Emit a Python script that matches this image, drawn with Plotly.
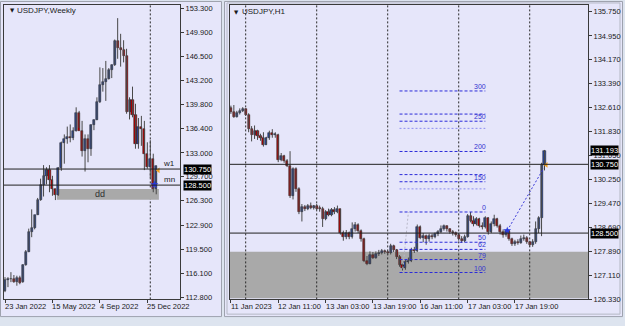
import plotly.graph_objects as go

W, H = 625, 326

# ---------------- Weekly data (bar index 0 = week of 23 Jan 2022) ----------------
w_open  = [113.7,115.2,115.3,115.4,115.0,115.5,114.9,117.3,119.2,122.0,122.5,124.3,126.4,128.5,129.8,130.6,
           129.2,127.9,127.1,130.9,134.4,135.0,135.2,135.1,136.1,138.6,136.1,133.3,135.0,133.5,136.9,137.6,
           140.2,142.6,142.9,143.4,144.7,145.3,148.7,147.7,147.5,146.6,138.8,140.4,138.3,134.3,136.6,136.4,
           132.8,131.1,132.1,127.9]
w_high  = [115.6,115.6,116.3,115.9,115.8,115.8,117.4,119.4,122.4,125.1,124.3,126.7,129.4,131.3,131.0,131.3,
           129.8,128.0,131.0,134.6,135.6,136.7,137.0,136.6,139.4,138.9,137.5,135.6,135.6,137.0,137.7,140.8,
           145.0,144.9,145.9,144.9,145.4,148.9,151.9,149.7,148.8,147.6,140.8,142.3,139.9,137.9,138.2,137.5,
           134.5,134.8,132.9,131.22]
w_low   = [113.5,114.2,114.9,114.8,114.4,114.6,114.8,117.2,119.1,121.2,122.3,124.3,126.3,126.9,128.6,127.5,
           127.0,126.4,127.0,130.5,131.5,134.3,134.5,134.8,136.0,136.5,132.5,130.4,131.7,132.6,136.2,137.6,
           140.0,141.6,140.3,143.3,143.5,145.2,146.2,145.1,145.7,138.5,137.7,138.0,133.6,133.6,134.0,130.6,
           130.8,129.5,127.5,127.21]
w_close = [115.2,115.3,115.4,115.0,115.5,114.8,117.3,119.2,122.0,122.5,124.3,126.4,128.5,129.8,130.6,129.2,
           127.9,127.1,130.9,134.4,135.0,135.2,135.1,136.1,138.6,136.1,133.3,135.0,133.5,136.9,137.6,140.2,
           142.6,142.9,143.4,144.7,145.3,148.7,147.7,147.5,146.6,138.8,140.4,138.3,134.3,136.6,136.4,132.8,
           131.1,132.1,127.9,131.19]
w_tick_idx = [0, 16, 32, 48]
w_tick_text = ["23 Jan 2022", "15 May 2022", "4 Sep 2022", "25 Dec 2022"]
w_yticks = [153.3,149.9,146.5,143.2,139.8,136.4,133.0,129.7,126.3,122.9,119.5,116.1,112.8]
w_separators = [49]
w_levels = [130.75, 128.50]
w_level_names = ["w1", "mn"]
dd_box = dict(x0=17.5, x1=51.9, y0=126.44, y1=127.95)
dd_text_x = 32
w_marks_blue = (50.4, 128.56)
w_marks_orange = (51.7, 130.57)

# ---------------- H1 data (bar index 0 = 11 Jan 2023 19:00) ----------------
h_open  = [132.61,132.46,132.30,132.44,132.51,132.55,132.38,131.92,131.72,131.85,131.68,131.62,131.40,131.60,131.78,131.70,
           131.72,130.90,131.02,130.85,130.70,129.70,130.60,129.95,129.19,129.35,129.28,129.40,129.33,129.38,129.30,129.28,
           128.95,129.18,129.10,129.25,129.20,129.28,128.50,128.36,128.50,128.38,128.62,128.78,128.58,128.30,127.60,127.50,
           127.80,127.70,127.82,127.86,127.92,127.88,127.84,128.08,127.95,127.72,127.45,127.35,127.55,127.60,127.95,127.90,
           128.70,128.35,128.40,128.30,128.42,128.38,128.46,128.55,128.65,128.72,128.62,128.55,128.50,128.45,128.32,128.25,
           128.38,129.05,128.90,128.80,128.95,128.75,128.70,128.98,128.55,128.80,128.95,128.75,128.55,128.45,128.58,128.30,
           128.15,128.22,128.18,128.30,128.35,128.20,128.10,128.22,128.62,129.00,130.72]
h_high  = [132.67,132.69,132.50,132.58,132.62,132.58,132.42,132.00,132.02,131.88,131.75,131.80,131.65,131.85,131.90,131.80,
           131.75,131.12,131.06,130.92,131.18,130.65,130.65,130.00,129.45,129.42,129.45,129.50,129.42,129.45,129.40,129.36,
           129.25,129.30,129.32,129.35,129.40,129.30,128.58,128.60,128.55,128.85,128.86,128.82,128.62,128.35,127.75,127.90,
           127.88,127.90,127.95,127.98,127.96,127.93,128.15,128.12,127.98,127.78,127.50,127.62,127.70,128.02,128.05,128.78,
           128.75,128.50,128.45,128.48,128.48,128.52,128.60,128.75,128.78,128.75,128.66,128.60,128.55,128.50,128.40,128.45,
           129.12,129.19,129.05,129.02,129.00,128.85,129.05,129.02,128.88,129.10,129.00,128.80,128.62,128.62,128.60,128.35,
           128.28,128.30,128.42,128.45,128.40,128.25,128.30,128.88,129.05,130.80,131.22]
h_low   = [132.40,132.27,132.28,132.38,132.46,132.33,131.80,131.50,131.58,131.55,131.52,131.33,131.38,131.55,131.62,131.62,
           130.82,130.85,130.80,130.66,129.65,129.60,129.85,129.12,128.88,129.22,129.25,129.28,129.27,129.25,129.20,128.70,
           128.92,129.05,129.05,129.12,129.15,128.45,128.25,128.30,128.30,128.32,128.55,128.50,128.22,127.55,127.45,127.48,
           127.65,127.66,127.75,127.80,127.82,127.78,127.80,127.88,127.65,127.40,127.21,127.30,127.50,127.55,127.85,127.88,
           128.30,128.20,128.12,128.22,128.30,128.33,128.40,128.50,128.58,128.55,128.48,128.42,128.38,128.25,128.18,128.20,
           128.35,128.85,128.72,128.75,128.68,128.62,128.65,128.45,128.50,128.72,128.68,128.45,128.35,128.38,128.25,128.08,
           128.08,128.12,128.15,128.25,128.15,128.05,128.05,128.15,128.50,128.40,130.55]
h_close = [132.46,132.30,132.44,132.51,132.55,132.38,131.92,131.72,131.85,131.68,131.62,131.40,131.60,131.78,131.70,131.72,
           130.90,131.02,130.85,130.70,129.70,130.60,129.95,129.19,129.35,129.28,129.40,129.33,129.38,129.30,129.28,128.95,
           129.18,129.10,129.25,129.20,129.28,128.50,128.36,128.50,128.38,128.62,128.78,128.58,128.30,127.60,127.50,127.80,
           127.70,127.82,127.86,127.92,127.88,127.84,128.08,127.95,127.72,127.45,127.35,127.55,127.60,127.95,127.90,128.70,
           128.35,128.40,128.30,128.42,128.38,128.46,128.55,128.65,128.72,128.62,128.55,128.50,128.45,128.32,128.25,128.38,
           129.05,128.90,128.80,128.95,128.75,128.70,128.98,128.55,128.80,128.95,128.75,128.55,128.45,128.58,128.30,128.15,
           128.22,128.18,128.30,128.35,128.20,128.10,128.22,128.62,129.00,130.72,131.19]
h_tick_idx = [0, 16, 32, 48, 64, 80, 96]
h_tick_text = ["11 Jan 2023", "12 Jan 11:00", "13 Jan 03:00", "13 Jan 19:00",
               "16 Jan 11:00", "17 Jan 03:00", "17 Jan 19:00"]
h_yticks = [135.75,134.95,134.17,133.39,132.61,131.83,131.05,130.25,129.47,128.69,127.89,127.11,126.33]
h_separators = [5, 29, 53, 77, 101]
h_levels = [130.75, 128.50]
h_zone = (126.37, 127.89)
bid_price = 131.193

# Fibonacci object: anchors and levels
fib_low = (58, 127.21)
fib_high = (60, 129.19)
fib_x_start, fib_x_end = 57, 86
fib_ratios = [0, 0.5, 0.618, 0.786, 1.0, -0.382, -0.5, -0.618, -1.0, -1.382, -1.5, -1.618, -2.0]
fib_texts  = ["0", "50", "62", "79", "100", "", "150", "", "200", "", "250", "", "300"]
fib_light  = [False, False, False, False, False, True, False, False, False, True, False, False, False]
trend_pts = [(93.4, 128.58), (105.7, 130.62)]
h_mark_orange = (106.6, 130.73)

# ---------------- helpers ----------------
BULL, BEAR = "#2a4aa2", "#bb0000"
OUT = "#141414"
WICK = "#484848"
FONT = "Liberation Sans, Arial, sans-serif"
TXT = "#1a1a1a"


def px(x):
    return x / W


def py(y):
    return 1 - y / H


def candles(o, h, l, c, xa, ya, minh):
    xs = list(range(len(o)))
    wx, wy = [], []
    for i in xs:
        wx += [i, i, None]
        wy += [l[i], h[i], None]
    base = [min(o[i], c[i]) for i in xs]
    hh = [max(abs(c[i] - o[i]), minh) for i in xs]
    cols = [BULL if c[i] >= o[i] else BEAR for i in xs]
    t1 = go.Scatter(x=wx, y=wy, mode="lines", line=dict(color=WICK, width=1),
                    xaxis=xa, yaxis=ya, hoverinfo="skip")
    t2 = go.Bar(x=xs, y=hh, base=base, width=0.7,
                marker=dict(color=cols, line=dict(color=OUT, width=0.5)),
                xaxis=xa, yaxis=ya, hoverinfo="skip")
    return [t1, t2]


fig = go.Figure()
for t in candles(w_open, w_high, w_low, w_close, "x", "y", 0.12):
    fig.add_trace(t)
for t in candles(h_open, h_high, h_low, h_close, "x2", "y2", 0.03):
    fig.add_trace(t)

# trend line + markers on H1
fig.add_trace(go.Scatter(x=[p[0] for p in trend_pts], y=[p[1] for p in trend_pts], mode="lines",
                         line=dict(color="#3a3ad8", width=1, dash="2px,2px"), xaxis="x2", yaxis="y2"))
fig.add_trace(go.Scatter(x=[fib_low[0], fib_high[0]], y=[fib_low[1], fib_high[1]], mode="lines",
                         line=dict(color="#b8b8c8", width=1, dash="2px,2px"), xaxis="x2", yaxis="y2"))
fig.add_trace(go.Scatter(x=[trend_pts[0][0]], y=[trend_pts[0][1]], mode="markers",
                         marker=dict(symbol="star", size=6, color="#2a3ae0"), xaxis="x2", yaxis="y2"))
fig.add_trace(go.Scatter(x=[h_mark_orange[0]], y=[h_mark_orange[1]], mode="markers",
                         marker=dict(symbol="triangle-left", size=5, color="#f0a020"), xaxis="x2", yaxis="y2"))
fig.add_trace(go.Scatter(x=[w_marks_blue[0]], y=[w_marks_blue[1]], mode="markers",
                         marker=dict(symbol="star", size=6, color="#2a3ae0"), xaxis="x", yaxis="y"))
fig.add_trace(go.Scatter(x=[w_marks_orange[0]], y=[w_marks_orange[1]], mode="markers",
                         marker=dict(symbol="triangle-left", size=5, color="#f0a020"), xaxis="x", yaxis="y"))

shapes = []
# window frames (paper, below everything)
shapes.append(dict(type="rect", xref="paper", yref="paper", x0=px(0.5), x1=px(221.5), y0=py(321.5), y1=py(0.5),
                   fillcolor="#e6e6fa", line=dict(color="#9ea2ae", width=1), layer="below"))
shapes.append(dict(type="rect", xref="paper", yref="paper", x0=px(224.5), x1=px(622.5), y0=py(321.5), y1=py(0.5),
                   fillcolor="#e6e6fa", line=dict(color="#9ea2ae", width=1), layer="below"))
shapes.append(dict(type="rect", xref="paper", yref="paper", x0=px(227), x1=px(620), y0=py(319), y1=py(2),
                   fillcolor="rgba(0,0,0,0)", line=dict(color="#b4b8c4", width=1), layer="below"))

# zones
shapes.append(dict(type="rect", xref="x", yref="y", x0=dd_box["x0"], x1=dd_box["x1"], y0=dd_box["y0"], y1=dd_box["y1"],
                   fillcolor="#a9a9a9", line=dict(width=0), layer="below"))
shapes.append(dict(type="rect", xref="x2 domain", yref="y2", x0=0, x1=1, y0=h_zone[0], y1=h_zone[1],
                   fillcolor="#a9a9a9", line=dict(width=0), layer="below"))
# separators
for s in w_separators:
    shapes.append(dict(type="line", xref="x", yref="y domain", x0=s, x1=s, y0=0, y1=1,
                       line=dict(color="#2a2a2a", width=1, dash="2px,2px"), layer="below"))
for s in h_separators:
    shapes.append(dict(type="line", xref="x2", yref="y2 domain", x0=s, x1=s, y0=0, y1=1,
                       line=dict(color="#2a2a2a", width=1, dash="2px,2px"), layer="below"))
# horizontal levels
for v in w_levels:
    shapes.append(dict(type="line", xref="x domain", yref="y", x0=0, x1=1, y0=v, y1=v,
                       line=dict(color="#202020", width=1)))
for v in h_levels:
    shapes.append(dict(type="line", xref="x2 domain", yref="y2", x0=0, x1=1, y0=v, y1=v,
                       line=dict(color="#202020", width=1)))
# fibonacci levels
fib_range = fib_high[1] - fib_low[1]
fib_prices = [fib_high[1] - r * fib_range for r in fib_ratios]
for p, light in zip(fib_prices, fib_light):
    shapes.append(dict(type="line", xref="x2", yref="y2", x0=fib_x_start, x1=fib_x_end, y0=p, y1=p,
                       line=dict(color="#8c8cf0" if light else "#2b2bd9", width=1,
                                 dash="2px,2px" if light else "3px,2px")))

ann = []
# x labels
for i, t in zip(w_tick_idx, w_tick_text):
    ann.append(dict(x=i, xref="x", y=py(311), yref="paper", text=t, showarrow=False, xanchor="left",
                    yanchor="middle", xshift=-2, font=dict(size=7.5, color=TXT, family=FONT)))
for i, t in zip(h_tick_idx, h_tick_text):
    ann.append(dict(x=i, xref="x2", y=py(311), yref="paper", text=t, showarrow=False, xanchor="left",
                    yanchor="middle", xshift=-2, font=dict(size=7.5, color=TXT, family=FONT)))
# titles
ann.append(dict(x=px(7.5), y=py(9.5), xref="paper", yref="paper", text="▼", showarrow=False, xanchor="left",
                yanchor="middle", font=dict(size=5.5, color=TXT, family="DejaVu Sans")))
ann.append(dict(x=px(15), y=py(9.5), xref="paper", yref="paper", text="USDJPY,Weekly", showarrow=False,
                xanchor="left", yanchor="middle", font=dict(size=8, color=TXT, family=FONT)))
ann.append(dict(x=px(232), y=py(11), xref="paper", yref="paper", text="▼", showarrow=False, xanchor="left",
                yanchor="middle", font=dict(size=5.5, color=TXT, family="DejaVu Sans")))
ann.append(dict(x=px(240), y=py(11), xref="paper", yref="paper", text="USDJPY,H1", showarrow=False,
                xanchor="left", yanchor="middle", font=dict(size=8, color=TXT, family=FONT)))
# level names
for v, nm in zip(w_levels, w_level_names):
    ann.append(dict(x=0.985, xref="x domain", y=v, yref="y", text=nm, showarrow=False, xanchor="right",
                    yanchor="middle", yshift=6, font=dict(size=8, color=TXT, family=FONT)))
ann.append(dict(x=dd_text_x, xref="x", y=(dd_box["y0"] + dd_box["y1"]) / 2, yref="y", text="dd", showarrow=False,
                xanchor="center", yanchor="middle", font=dict(size=9, color="#303030", family=FONT)))
# fib labels
for p, t in zip(fib_prices, fib_texts):
    if t:
        ann.append(dict(x=fib_x_end + 0.6, xref="x2", y=p, yref="y2", text=t, showarrow=False, xanchor="right",
                        yanchor="middle", yshift=4.5, borderpad=0,
                        font=dict(size=7, color="#3434d0", family=FONT)))
# price boxes
for v in w_levels:
    ann.append(dict(x=px(183), xref="paper", y=v, yref="y", text=f"{v:.3f}", showarrow=False, xanchor="left",
                    yanchor="middle", bgcolor="#000000", borderpad=0,
                    font=dict(size=7.5, color="#ffffff", family=FONT)))
for v in [bid_price] + h_levels:
    ann.append(dict(x=px(590), xref="paper", y=v, yref="y2", text=f"{v:.3f}", showarrow=False, xanchor="left",
                    yanchor="middle", bgcolor="#000000", borderpad=0,
                    font=dict(size=7.5, color="#ffffff", family=FONT)))

ydom = [py(304), py(4)]
axis_common = dict(showgrid=False, zeroline=False, showline=True, mirror=True, linecolor="#3a3a3a",
                   linewidth=1, ticks="outside", ticklen=3, tickcolor="#3a3a3a")

fig.update_layout(
    width=W, height=H, margin=dict(l=0, r=0, t=0, b=0),
    paper_bgcolor="#dde4ef", plot_bgcolor="#e6e6fa",
    showlegend=False, barmode="overlay", bargap=0,
    font=dict(family=FONT, size=7.5, color=TXT),
    xaxis=dict(domain=[px(4), px(180)], range=[-0.337, 59.02], tickvals=w_tick_idx, showticklabels=False,
               anchor="y", **axis_common),
    yaxis=dict(domain=ydom, range=[112.48, 153.75], side="right", tickvals=w_yticks,
               ticktext=[f"{v:.3f}" for v in w_yticks], anchor="x",
               tickfont=dict(size=7.5, color=TXT, family=FONT), **axis_common),
    xaxis2=dict(domain=[px(230), px(588)], range=[-0.3, 120.7], tickvals=h_tick_idx, showticklabels=False,
                anchor="y2", **axis_common),
    yaxis2=dict(domain=ydom, range=[126.33, 135.965], side="right", tickvals=h_yticks,
                ticktext=[f"{v:.3f}" for v in h_yticks], anchor="x2",
                tickfont=dict(size=7.5, color=TXT, family=FONT), **axis_common),
    shapes=shapes, annotations=ann,
)

fig.write_html("out.html")
